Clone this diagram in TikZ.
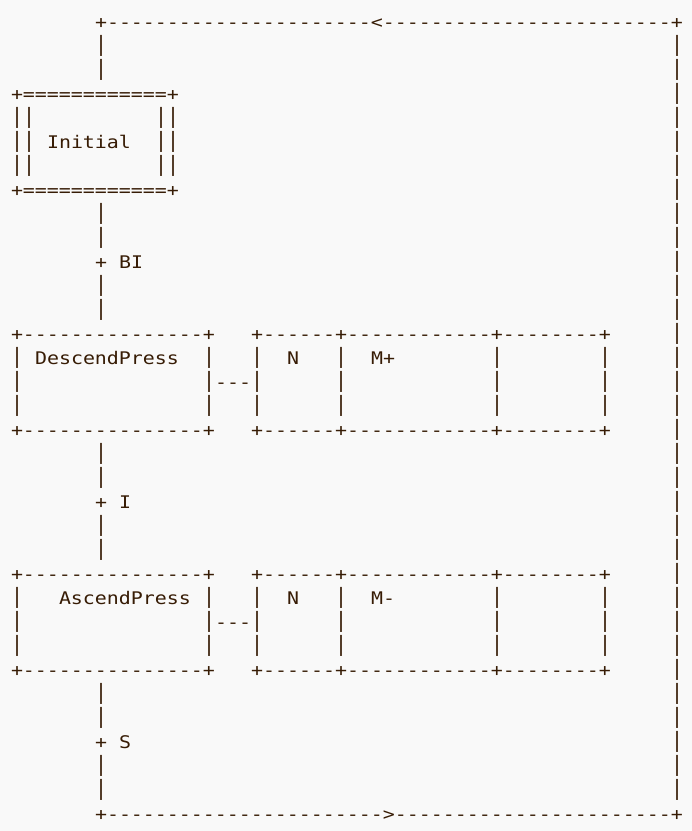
\documentclass[tikz,border=0pt]{standalone}
\usepackage{fontspec}
\usepackage{graphicx}
\setmonofont[FakeStretch=1.1456]{DejaVu Sans Mono}
\definecolor{ink}{RGB}{55,28,5}
\definecolor{paper}{RGB}{249,249,249}
\tikzset{asc/.style={anchor=base west, inner sep=0pt, outer sep=0pt, text=ink,
  font=\ttfamily\fontsize{17.4pt}{24pt}\selectfont}}
\newcommand\asc[4]{\node[asc] (#1) at ({11+12*#2},{28.3+24*#3}) {#4};}
\newcommand\tallbar{\raisebox{1.3pt}{\scalebox{1}[1.21]{|}}}
\def\dten{----------}
\begin{document}
\begin{tikzpicture}[x=1pt,y=-1pt]
\fill[paper] (0,0) rectangle (692,831);
\useasboundingbox (0,0) rectangle (692,831);
% feedback loop
\asc{loopTop}{7}{0}{+\dten\dten--<\dten\dten----+}
\asc{loopBot}{7}{33}{+\dten\dten---{}>\dten\dten---+}
\foreach \r in {1,...,32} {\asc{right\r}{55}{\r}{\tallbar}}
% main vertical line
\foreach \r in {1,2,8,9,11,12,18,19,21,22,28,29,31,32} {\asc{v\r}{7}{\r}{\tallbar}}
\asc{tBI}{7}{10}{+}\asc{lBI}{9}{10}{BI}
\asc{tI}{7}{20}{+}\asc{lI}{9}{20}{I}
\asc{tS}{7}{30}{+}\asc{lS}{9}{30}{S}
% Initial step (double box)
\asc{initTop}{0}{3}{+============+}
\asc{initBot}{0}{7}{+============+}
\foreach \r in {4,5,6} {\asc{initL\r}{0}{\r}{\tallbar\tallbar}\asc{initR\r}{12}{\r}{\tallbar\tallbar}}
\asc{initial}{3}{5}{Initial}
% DescendPress and AscendPress steps with action tables
\foreach \t/\name/\nc/\act/\pre in {13/DescendPress/2/M+/d, 23/AscendPress/4/M-/a} {
  \pgfmathtruncatemacro\ra{\t+1}
  \pgfmathtruncatemacro\rb{\t+2}
  \pgfmathtruncatemacro\rc{\t+3}
  \pgfmathtruncatemacro\rd{\t+4}
  \asc{\pre Top}{0}{\t}{+\dten-----+}
  \asc{\pre Bot}{0}{\rd}{+\dten-----+}
  \asc{\pre TabTop}{20}{\t}{+------+------------+--------+}
  \asc{\pre TabBot}{20}{\rd}{+------+------------+--------+}
  \foreach \r in {\ra,\rb,\rc} {
    \foreach \c in {0,16,20,27,40,49} {\asc{\pre\r-\c}{\c}{\r}{\tallbar}}
  }
  \asc{\pre Link}{17}{\rb}{---}
  \asc{\pre Name}{\nc}{\ra}{\name}
  \asc{\pre N}{23}{\ra}{N}
  \asc{\pre Act}{30}{\ra}{\act}
}
\end{tikzpicture}
\end{document}
